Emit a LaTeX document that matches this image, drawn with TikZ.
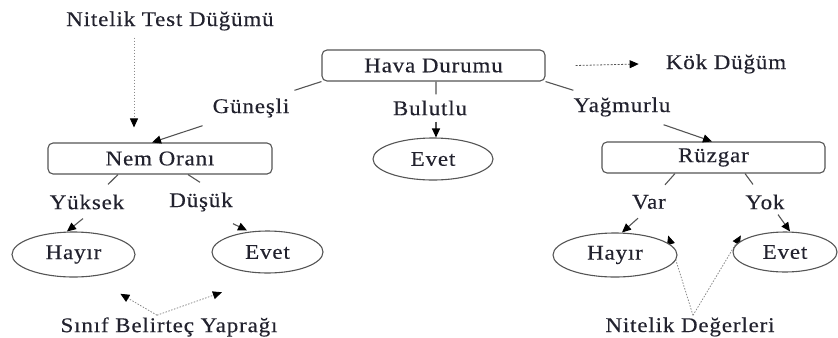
\documentclass[tikz,border=0pt]{standalone}
\usepackage{fontspec}
\setmainfont{Liberation Serif}[FakeStretch=1.1,LetterSpace=4,FakeBold=0.3]
\usetikzlibrary{arrows.meta,backgrounds,shapes.geometric}

\definecolor{ink}{HTML}{22222E}
\definecolor{edgegray}{HTML}{555555}
\definecolor{hintgray}{HTML}{8A8A8A}

\tikzset{
  txt/.style={font=\fontsize{21}{24}\selectfont, text=ink, inner sep=0pt},
  testbox/.style={txt, draw=edgegray, line width=1.1bp, rounded corners=5bp,
    minimum height=31bp, fill=white},
  leaf/.style={txt, ellipse, draw=edgegray, line width=1.1bp, fill=white},
  branch/.style={draw=edgegray, line width=1.1bp},
  branchto/.style={branch, -{Triangle[length=9bp,width=8bp,black]}},
  hint/.style={draw=hintgray, line width=0.8bp, dash pattern=on 1.5bp off 1.5bp,
    -{Triangle[length=9bp,width=8bp,black]}},
  roothint/.style={hint, draw=edgegray, dash pattern=on 2bp off 1.5bp}
}

\begin{document}
\begin{tikzpicture}[x=1bp,y=-1bp]
  \useasboundingbox (0,0) rectangle (838,337);

  % test nodes
  \node[testbox, minimum width=223bp] (root) at (433.5,65.5) {Hava Durumu};
  \node[testbox, minimum width=224bp] (nem)  at (160,158.5) {Nem Oranı};
  \node[testbox, minimum width=223bp] (ruz)  at (713.5,157.5) {Rüzgar};

  % leaves
  \node[leaf, minimum width=120bp, minimum height=42bp] (evet1)  at (433,159)   {Evet};
  \node[leaf, minimum width=123bp, minimum height=45bp] (hayir1) at (73.5,254.5) {Hayır};
  \node[leaf, minimum width=111bp, minimum height=42bp] (evet2)  at (267.5,252) {Evet};
  \node[leaf, minimum width=124bp, minimum height=44bp] (hayir2) at (615,255)   {Hayır};
  \node[leaf, minimum width=104bp, minimum height=40bp] (evet3)  at (785,252)   {Evet};

  % branch labels
  \node[txt] (gunesli)  at (251,108) {Güneşli};
  \node[txt] (bulutlu)  at (430,108) {Bulutlu};
  \node[txt] (yagmurlu) at (622,107) {Yağmurlu};
  \node[txt] (yuksek)   at (87,202)  {Yüksek};
  \node[txt] (dusuk)    at (201,202) {Düşük};
  \node[txt] (var)      at (649,202) {Var};
  \node[txt] (yok)      at (765,202) {Yok};

  % annotations
  \node[txt] (ntd)   at (170,21)  {Nitelik Test Düğümü};
  \node[txt] (kok)   at (726,64)  {Kök Düğüm};
  \node[txt] (sinif) at (169,327) {Sınıf Belirteç Yaprağı};
  \node[txt] (nd)    at (690,327) {Nitelik Değerleri};

  % root branches
  \draw[branch] (root.south west) -- ([shift={(5,-8)}]gunesli.north east);
  \draw[branchto] ([shift={(-10,8)}]gunesli.south west) -- ([shift={(-8,0)}]nem.north);
  \draw[branch] ([shift={(2.5,0)}]root.south) -- ([shift={(6,-6)}]bulutlu.north);
  \draw[branchto] ([shift={(6,6)}]bulutlu.south) -- ([shift={(3,0)}]evet1.north);
  \draw[branch] (root.south east) -- ([shift={(0,-7)}]yagmurlu.north west);
  \draw[branchto] ([shift={(-7,8)}]yagmurlu.south east) -- ([shift={(-1.5,0)}]ruz.north);

  % Nem Oranı branches
  \draw[branch] ([shift={(-42,0)}]nem.south) -- ([shift={(21,-10)}]yuksek.north);
  \draw[branchto] ([shift={(-4,9)}]yuksek.south) -- ([shift={(-6.5,0)}]hayir1.north);
  \draw[branch] ([shift={(28,0)}]nem.south) -- ([shift={(-1,-10)}]dusuk.north);
  \draw[branchto] ([shift={(32,12)}]dusuk.south) -- ([shift={(-20.5,0)}]evet2.north);

  % Rüzgar branches
  \draw[branch] ([shift={(-38.5,0)}]ruz.south) -- ([shift={(16,-10)}]var.north);
  \draw[branchto] ([shift={(-11,9)}]var.south) -- ([shift={(7,0)}]hayir2.north);
  \draw[branch] ([shift={(31.5,0)}]ruz.south) -- ([shift={(-12,-10)}]yok.north);
  \draw[branchto] ([shift={(13,5)}]yok.south) -- ([shift={(5,0)}]evet3.north);

  % annotation pointers
  \draw[hint] ([shift={(-36,7)}]ntd.south) -- ([shift={(-26,-15)}]nem.north);
  \draw[roothint] ([shift={(30,0)}]root.east) -- ([shift={(-27,0)}]kok.west);
  \draw[hint] ([shift={(-12,-2)}]sinif.north) -- ([shift={(3,23)}]hayir1.south east);
  \draw[hint] ([shift={(-12,-2)}]sinif.north) -- ([shift={(-6,25)}]evet2.south west);
  \begin{scope}[on background layer]
    \draw[hint] ([shift={(3,-2)}]nd.north) -- ([shift={(9,-3.5)}]hayir2.north east);
    \draw[hint] ([shift={(3,-2)}]nd.north) -- ([shift={(-7,-2)}]evet3.north west);
  \end{scope}
\end{tikzpicture}
\end{document}
